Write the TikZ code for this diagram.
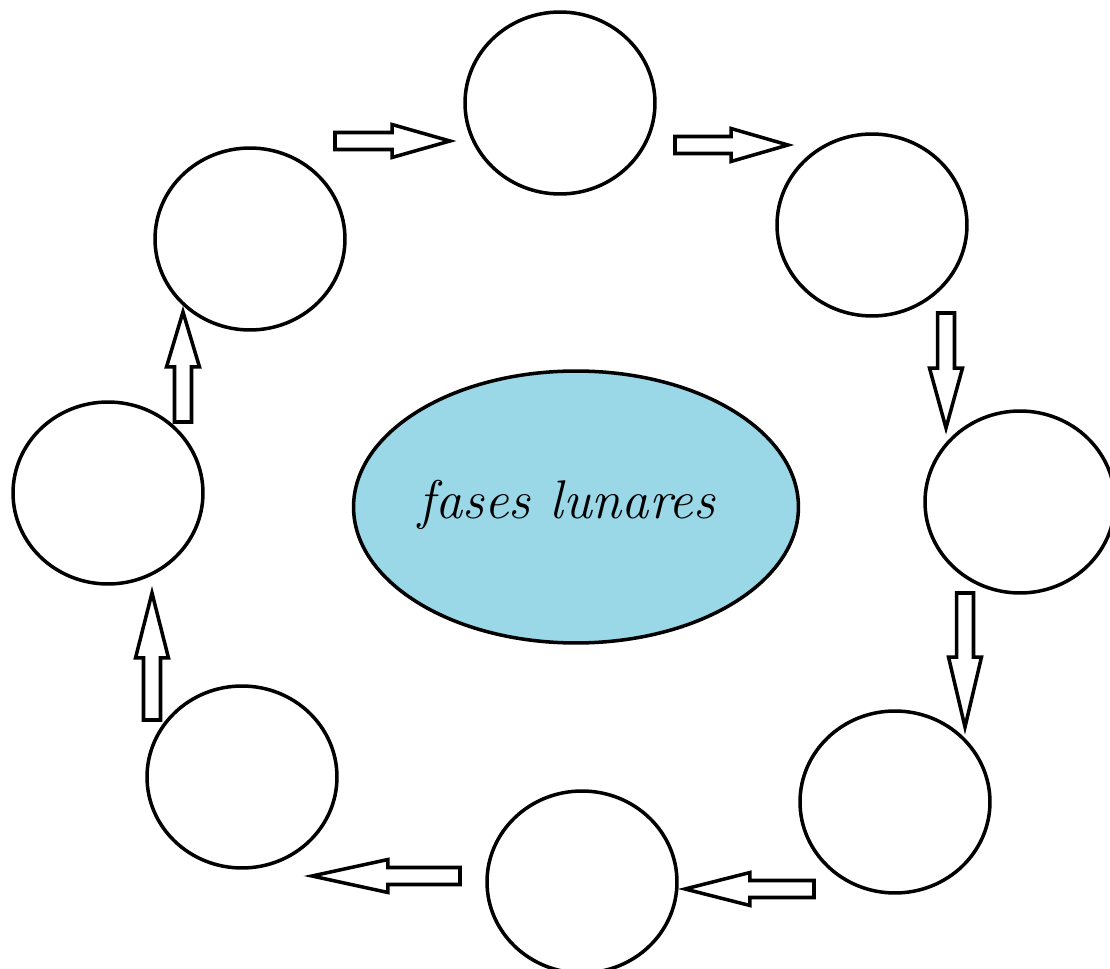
\documentclass[tikz,border=0pt]{standalone}
\usepackage{amsmath}
\usepackage{xcolor}
\usetikzlibrary{arrows.meta}
\usetikzlibrary{calc}
\usetikzlibrary{shapes.geometric}

\definecolor{lunarblue}{RGB}{154,216,232}

\tikzset{
  phase/.style={ellipse, draw, line width=2pt, fill=white, inner sep=0pt,
    minimum width=3.8cm, minimum height=3.64cm},
  hub/.style={ellipse, draw, line width=2pt, fill=lunarblue, inner sep=0pt,
    minimum width=8.9cm, minimum height=5.44cm},
  blockarrow/.style={draw, fill=white, line width=2pt, line join=miter,
    to path={
      ($(\tikztostart)!0.17cm!90:(\tikztotarget)$)
      -- ($(\tikztotarget)!#1!(\tikztostart)!0.17cm!-90:(\tikztostart)$)
      -- ($(\tikztotarget)!#1!(\tikztostart)!0.33cm!-90:(\tikztostart)$)
      -- (\tikztotarget)
      -- ($(\tikztotarget)!#1!(\tikztostart)!0.33cm!90:(\tikztostart)$)
      -- ($(\tikztotarget)!#1!(\tikztostart)!0.17cm!90:(\tikztostart)$)
      -- ($(\tikztostart)!0.17cm!-90:(\tikztotarget)$)
      -- cycle}},
  blockarrow/.default=1.24cm
}

\begin{document}
\begin{tikzpicture}[x=0.02cm, y=-0.02cm]
      \clip (0,0) rectangle (1110,969);
      \fill[white] (0,0) rectangle (1110,969);

      % phases of the moon
      \node[phase] (p1) at (560,103) {};
      \node[phase] (p2) at (872,225) {};
      \node[phase] (p3) at (1020,502) {};
      \node[phase] (p4) at (895,802) {};
      \node[phase] (p5) at (582,882) {};
      \node[phase] (p6) at (242,777) {};
      \node[phase] (p7) at (108,493) {};
      \node[phase] (p8) at (250,239) {};

      \node[hub] (hub) at (576,507) {};
      \node (title) at (567,505) {\fontsize{31}{37}\selectfont\itshape fases lunares};

      % arrow ends
      \coordinate (a1s) at (335,141);  \coordinate (a1e) at (450,141);
      \coordinate (a2s) at (675,145);  \coordinate (a2e) at (788,145);
      \coordinate (a3s) at (946,313);  \coordinate (a3e) at (946,428);
      \coordinate (a4s) at (965,593);  \coordinate (a4e) at (965,727);
      \coordinate (a5s) at (814,889);  \coordinate (a5e) at (685,889);
      \coordinate (a6s) at (460,876);  \coordinate (a6e) at (312,876);
      \coordinate (a7s) at (152,720);  \coordinate (a7e) at (152,593);
      \coordinate (a8s) at (183,422);  \coordinate (a8e) at (183,312);

      \draw[blockarrow=1.16cm] (a1s) to (a1e);
      \draw[blockarrow=1.14cm] (a2s) to (a2e);
      \draw[blockarrow=1.2cm] (a3s) to (a3e);
      \draw[blockarrow=1.4cm] (a4s) to (a4e);
      \draw[blockarrow=1.3cm] (a5s) to (a5e);
      \draw[blockarrow=1.52cm] (a6s) to (a6e);
      \draw[blockarrow=1.3cm] (a7s) to (a7e);
      \draw[blockarrow=1.1cm] (a8s) to (a8e);
\end{tikzpicture}
\end{document}
